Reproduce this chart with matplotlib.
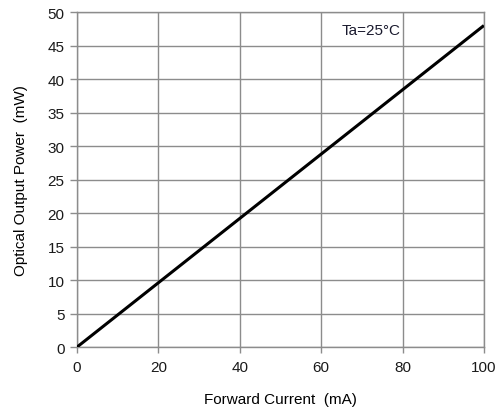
import matplotlib
matplotlib.use("Agg")
import matplotlib.pyplot as plt
import numpy as np

# forward current (mA) vs optical output power (mW), Ta = 25C
current = [0, 100]
power = [0, 48]

x_ticks = [0, 20, 40, 60, 80, 100]
y_ticks = [0, 5, 10, 15, 20, 25, 30, 35, 40, 45, 50]

matplotlib.rcParams['font.family'] = ["Liberation Sans", "DejaVu Sans"]
matplotlib.rcParams['font.size'] = 10

GRID = "#8c8c8c"

fig = plt.figure(figsize=(5.03, 4.10), dpi=100)
ax = fig.add_axes([0.153, 0.151, 0.809, 0.817])

ax.plot(current, power, color="black", lw=2.2, solid_capstyle="butt", zorder=3)

ax.set_xlim(0, 100)
ax.set_ylim(0, 50)
ax.set_xticks(x_ticks)
ax.set_yticks(y_ticks)
ax.grid(True, color=GRID, lw=1.0)
for s in ax.spines.values():
    s.set_color(GRID)
    s.set_linewidth(1.0)
ax.tick_params(axis='both', color=GRID, length=5, width=1.0, labelsize=11, labelcolor="#1a1a1a")
ax.tick_params(axis='y', pad=4)
ax.tick_params(axis='x', length=4, pad=5)

ax.set_xlabel("Forward Current  (mA)", fontsize=11, labelpad=13)
ax.set_ylabel("Optical Output Power  (mW)", fontsize=11, labelpad=14)

ax.text(65, 47.3, "Ta=25\u00b0C", fontsize=11, color="#1a1a2e", va="center", ha="left")

plt.savefig("out.png", dpi=100)
